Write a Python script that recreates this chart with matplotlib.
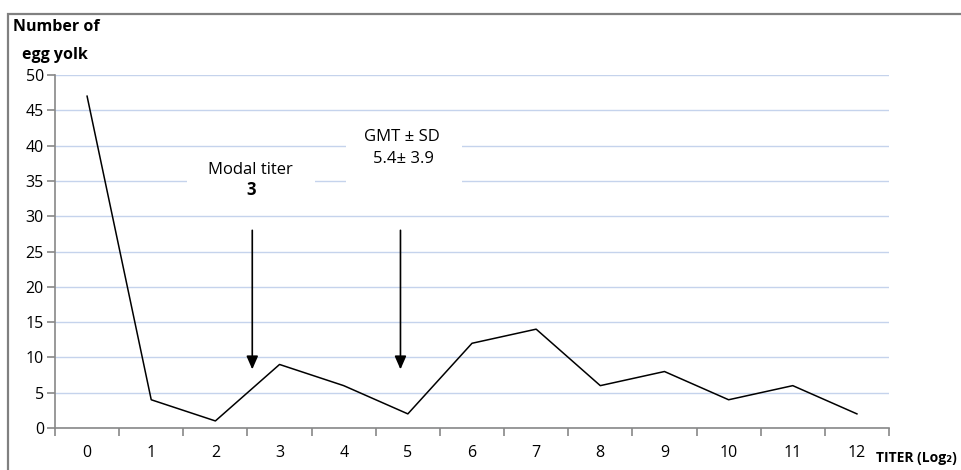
import numpy as np
import matplotlib.pyplot as plt
from matplotlib.patches import Rectangle

plt.rcParams['font.family'] = ['Open Sans', 'DejaVu Sans']

# Data
titers = list(range(13))
counts = [47, 4, 1, 9, 6, 2, 12, 14, 6, 8, 4, 6, 2]
y_ticks = list(range(0, 55, 5))

fig = plt.figure(figsize=(9.61, 4.70), dpi=100)
ax = fig.add_axes([55 / 961, 1 - 428 / 470, (889 - 55) / 961, (428 - 75) / 470])

ax.plot(titers, counts, color='black', linewidth=1.1, zorder=4)

ax.set_xlim(-0.5, 12.5)
ax.set_ylim(0, 50)
ax.set_yticks(y_ticks)
ax.set_xticks(titers)
ax.set_xticks(np.arange(-0.5, 13, 1), minor=True)
ax.tick_params(axis='x', which='major', length=0, pad=12, labelsize=11.5)
ax.tick_params(axis='x', which='minor', length=6, color='#888888', width=1.2)
ax.tick_params(axis='y', length=6, color='#888888', width=1.2, labelsize=11.5, pad=2)

ax.grid(axis='y', color='#c5d3ec', linewidth=1.0, zorder=0)
ax.set_axisbelow(True)
for side in ['top', 'right']:
    ax.spines[side].set_visible(False)
for side in ['left', 'bottom']:
    ax.spines[side].set_color('#888888')
    ax.spines[side].set_linewidth(1.2)

# white boxes behind annotation text
ax.add_patch(Rectangle((1.56, 32.6), 2.0, 6.1, facecolor='white', edgecolor='none', zorder=2))
ax.add_patch(Rectangle((4.03, 33.0), 1.81, 9.9, facecolor='white', edgecolor='none', zorder=2))

ax.text(2.55, 36.5, 'Modal titer', ha='center', va='center', fontsize=12, zorder=3)
ax.text(2.55, 33.7, '3', ha='center', va='center', fontsize=12, fontweight='bold', zorder=3)
ax.text(4.91, 41.2, 'GMT ± SD', ha='center', va='center', fontsize=12, zorder=3)
ax.text(4.93, 38.1, '5.4± 3.9', ha='center', va='center', fontsize=12, zorder=3)

for xa in [2.575, 4.885]:
    ax.annotate('', xy=(xa, 8.3), xytext=(xa, 28.0),
                arrowprops=dict(arrowstyle='-|>,head_length=0.8,head_width=0.35',
                                color='black', linewidth=1.2, shrinkA=0, shrinkB=0),
                zorder=5)

fig.text(13 / 961, 1 - 27 / 470, 'Number of', ha='left', va='center', fontsize=11.5, fontweight='bold')
fig.text(22 / 961, 1 - 55 / 470, 'egg yolk', ha='left', va='center', fontsize=11.5, fontweight='bold')
fig.text(957 / 961, 1 - 458 / 470, 'TITER (Log₂)', ha='right', va='center', fontsize=10, fontweight='bold')

# outer frame
fig.patches.append(Rectangle((8 / 961, -0.1), 1.2, 1.1 - 14 / 470, transform=fig.transFigure,
                             facecolor='none', edgecolor='#808080', linewidth=1.6))

fig.savefig('out.png', dpi=100)
